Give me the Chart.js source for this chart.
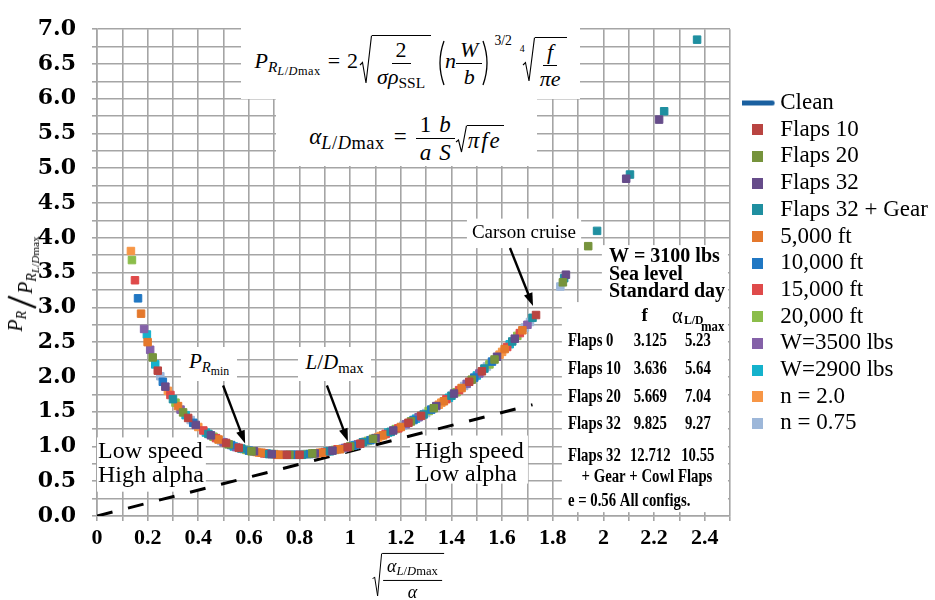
<!DOCTYPE html>
<html>
<head>
<meta charset="utf-8">
<script src="https://cdn.jsdelivr.net/npm/chart.js@4.4.1/dist/chart.umd.min.js"></script>
<style>
  html, body { margin: 0; padding: 0; background: #fff; }
  #wrap { position: relative; width: 935px; height: 600px; }
  #chart { position: absolute; left: 0; top: 0; }
  .tex { position: absolute; font-family: 'Liberation Serif', serif; color: #000; white-space: nowrap; line-height: 1; }
  .boxed { background: #fff; display: flex; align-items: center; justify-content: center; }
  .frac { display: inline-flex; flex-direction: column; align-items: center; vertical-align: middle; }
  .frac > .n { border-bottom: 1.1px solid #000; padding: 0 4px 2px; }
  .frac > .d { padding: 2px 4px 0; }
  .root { display: inline-flex; align-items: stretch; vertical-align: middle; }
  .root > svg { flex: none; }
  .root > .u { border-top: 1.1px solid #000; padding: 3px 2px 0 1px; display: inline-flex; align-items: center; }
  .sb { font-size: 0.7em; vertical-align: -0.28em; }
  .sb .sb { font-size: 0.8em; vertical-align: -0.25em; }
  .paren { vertical-align: middle; }
</style>
</head>
<body>
<div id="wrap">
  <canvas id="chart" width="935" height="600"></canvas>

  <div class="tex boxed" style="left:241px;top:26px;width:339px;height:73px;font-size:22px">
    <span><i>P</i><span class="sb"><i>R</i><span class="sb" style="letter-spacing:0.5px"><i>L</i>/<i>D</i>max</span></span><span style="margin:0 7px 0 7px">=</span>2<span class="root" style="margin-left:1px"><svg width="13" height="50" viewBox="0 0 13 50" preserveAspectRatio="none"><path d="M1,30 L3.5,27.5 L7,48 L12.5,0.6" fill="none" stroke="#000" stroke-width="1.1"/></svg><span class="u"><span class="frac"><span class="n">2</span><span class="d"><i>σρ</i><span class="sb">SSL</span></span></span></span></span><svg class="paren" width="10" height="46" viewBox="0 0 10 46" style="margin-left:4px"><path d="M9,1 Q1,23 9,45" fill="none" stroke="#000" stroke-width="1.3"/></svg><i>n</i><span class="frac"><span class="n"><i>W</i></span><span class="d"><i>b</i></span></span><svg class="paren" width="10" height="46" viewBox="0 0 10 46"><path d="M1,1 Q9,23 1,45" fill="none" stroke="#000" stroke-width="1.3"/></svg><span style="font-size:0.62em;vertical-align:1.7em;margin-left:2px">3/2</span><span style="font-size:0.45em;vertical-align:1.6em;margin:0 -3px 0 8px">4</span><span class="root"><svg width="13" height="46" viewBox="0 0 13 46" preserveAspectRatio="none"><path d="M1,28 L3.5,25.5 L7,44 L12.5,0.6" fill="none" stroke="#000" stroke-width="1.1"/></svg><span class="u"><span class="frac"><span class="n"><i>f</i></span><span class="d"><i>πe</i></span></span></span></span></span>
  </div>

  <div class="tex boxed" style="left:276px;top:99px;width:261px;height:67px;font-size:23px">
    <span style="position:relative;top:6px"><i>α</i><span class="sb" style="font-size:0.8em;letter-spacing:0.5px"><i>L</i>/<i>D</i>max</span><span style="margin:0 9px">=</span><span class="frac"><span class="n">1</span><span class="d"><i>a</i></span></span><span class="frac"><span class="n"><i>b</i></span><span class="d"><i>S</i></span></span><span class="root"><svg width="12" height="28" viewBox="0 0 12 28" preserveAspectRatio="none"><path d="M1,17 L3.5,15 L6.5,27 L11.5,0.6" fill="none" stroke="#000" stroke-width="1.1"/></svg><span class="u"><i style="letter-spacing:2px">πfe</i></span></span></span>
  </div>

  <div class="tex boxed" style="left:181px;top:347px;width:56px;height:34px;font-size:21px">
    <span><i>P</i><span class="sb"><i>R</i><span class="sb">min</span></span></span>
  </div>

  <div class="tex boxed" style="left:298px;top:347px;width:73px;height:34px;font-size:21px">
    <span><i>L</i>/<i>D</i><span class="sb">max</span></span>
  </div>

  <div class="tex" id="ytitle" style="left:22px;top:284px;font-size:20px;transform:translate(-50%,-50%) rotate(-90deg)">
    <span style="position:relative;top:-5px"><i>P</i><span class="sb"><i>R</i></span></span><svg width="15" height="30" viewBox="0 0 15 30" style="vertical-align:middle;margin:0 1px"><line x1="2" y1="29" x2="13" y2="1" stroke="#000" stroke-width="2.2"/></svg><span style="position:relative;top:5px"><i>P</i><span class="sb"><i>R</i><span class="sb"><i>L</i>/<i>D</i>max</span></span></span>
  </div>

  <div class="tex" id="xtitle" style="left:408px;top:577px;font-size:18px;transform:translate(-50%,-50%)">
    <span class="root"><svg width="10" height="44" viewBox="0 0 10 44" preserveAspectRatio="none"><path d="M0.5,26 L2.5,24 L5.5,43 L9.5,0.6" fill="none" stroke="#000" stroke-width="1"/></svg><span class="u"><span class="frac"><span class="n"><i>α</i><span class="sb"><i>L</i>/<i>D</i>max</span></span><span class="d"><i>α</i></span></span></span></span>
  </div>
</div>

<script>
// x = sqrt(alpha_LDmax / alpha), y = P_R / P_R,LDmax
const flaps10 = [[0.24, 2.09], [0.36, 1.41], [0.51, 1.05], [0.56, 0.98], [0.75, 0.88], [0.80, 0.88], [0.99, 0.99], [1.04, 1.04], [1.23, 1.34], [1.28, 1.44], [1.47, 1.93], [1.52, 2.08], [1.734, 2.89]];
const flaps20 = [[0.22, 2.28], [0.34, 1.49], [0.52, 1.03], [0.61, 0.93], [0.76, 0.88], [0.85, 0.90], [1.00, 1.00], [1.09, 1.11], [1.24, 1.36], [1.33, 1.55], [1.48, 1.96], [1.57, 2.25], [1.84, 3.36], [1.94, 3.88]];
const flaps32 = [[0.27, 1.86], [0.39, 1.31], [0.45, 1.16], [0.62, 0.93], [0.69, 0.89], [0.86, 0.90], [0.93, 0.94], [1.10, 1.12], [1.17, 1.23], [1.34, 1.58], [1.41, 1.76], [1.58, 2.29], [1.65, 2.55], [1.852, 3.47], [2.09, 4.85], [2.22, 5.70]];
const flaps32Gear = [[0.30, 1.68], [0.44, 1.18], [0.57, 0.97], [0.68, 0.89], [0.81, 0.88], [0.92, 0.93], [1.05, 1.06], [1.16, 1.21], [1.29, 1.46], [1.40, 1.73], [1.53, 2.12], [1.64, 2.51], [1.72, 2.85], [1.845, 3.42], [1.975, 4.10], [2.105, 4.91], [2.24, 5.82], [2.37, 6.85]];
const alt5000 = [[0.174, 2.91], [0.20, 2.50], [0.32, 1.58], [0.48, 1.10], [0.65, 0.91], [0.72, 0.88], [0.89, 0.91], [0.96, 0.96], [1.13, 1.16], [1.20, 1.28], [1.37, 1.65], [1.44, 1.84], [1.61, 2.40], [1.68, 2.67]];
const alt10000 = [[0.162, 3.13], [0.26, 1.93], [0.38, 1.34], [0.53, 1.02], [0.60, 0.94], [0.77, 0.88], [0.84, 0.89], [1.01, 1.01], [1.08, 1.09], [1.25, 1.38], [1.32, 1.53], [1.49, 1.99], [1.56, 2.22]];
const alt15000 = [[0.150, 3.39], [0.29, 1.74], [0.42, 1.23], [0.47, 1.12], [0.66, 0.90], [0.71, 0.88], [0.90, 0.92], [0.95, 0.96], [1.14, 1.18], [1.19, 1.26], [1.38, 1.68], [1.43, 1.81], [1.62, 2.43], [1.67, 2.63]];
const alt20000 = [[0.138, 3.68], [0.31, 1.63], [0.46, 1.14], [0.59, 0.95], [0.70, 0.89], [0.83, 0.89], [0.94, 0.95], [1.07, 1.08], [1.18, 1.25], [1.31, 1.51], [1.42, 1.78], [1.55, 2.18], [1.66, 2.59]];
const w3500 = [[0.186, 2.69], [0.21, 2.39], [0.33, 1.53], [0.50, 1.06], [0.55, 0.99], [0.74, 0.88], [0.79, 0.88], [0.98, 0.98], [1.03, 1.03], [1.22, 1.32], [1.27, 1.42], [1.46, 1.90], [1.51, 2.05], [1.70, 2.75]];
const w2900 = [[0.197, 2.61], [0.23, 2.18], [0.35, 1.45], [0.43, 1.20], [0.54, 1.00], [0.67, 0.90], [0.78, 0.88], [0.91, 0.93], [1.02, 1.02], [1.15, 1.20], [1.26, 1.40], [1.39, 1.70], [1.50, 2.02], [1.63, 2.47]];
const n20 = [[0.134, 3.81], [0.28, 1.80], [0.40, 1.28], [0.63, 0.92], [0.64, 0.91], [0.87, 0.90], [0.88, 0.91], [1.11, 1.13], [1.12, 1.15], [1.35, 1.60], [1.36, 1.63], [1.59, 2.32], [1.60, 2.36]];
const n075 = [[0.25, 2.01], [0.37, 1.38], [0.49, 1.08], [0.58, 0.96], [0.73, 0.88], [0.82, 0.89], [0.97, 0.97], [1.06, 1.07], [1.21, 1.30], [1.30, 1.48], [1.45, 1.87], [1.54, 2.15], [1.69, 2.71], [1.71, 2.79], [1.83, 3.30]];
const tangent = [[0, 0], [1.72, 1.6]];

// table in the lower right
const configNames = ['Flaps 0', 'Flaps 10', 'Flaps 20', 'Flaps 32', 'Flaps 32'];
const configF = ['3.125', '3.636', '5.669', '9.825', '12.712'];
const configAlpha = ['5.23', '5.64', '7.04', '9.27', '10.55'];

const SERIF = "'Liberation Serif', serif";

function legendIcon(color, isLine) {
  const c = document.createElement('canvas');
  const g = c.getContext('2d');
  if (isLine) {
    c.width = 36; c.height = 7;
    g.strokeStyle = color; g.lineWidth = 5; g.lineCap = 'round';
    g.beginPath(); g.moveTo(3, 3.5); g.lineTo(33, 3.5); g.stroke();
  } else {
    c.width = 11; c.height = 11;
    g.fillStyle = color; g.fillRect(0, 0, 11, 11);
  }
  return c;
}

function series(label, pts, color) {
  return {
    type: 'scatter', label, data: pts.map(([x, y]) => ({ x, y })),
    backgroundColor: color, borderColor: color, borderWidth: 1,
    pointStyle: 'rect', pointRadius: 5.3, pointHoverRadius: 5.3
  };
}

const datasets = [
  { type: 'line', label: 'Clean', data: [], borderColor: '#1a60a0', backgroundColor: '#1a60a0', borderWidth: 4, isLine: true },
  series('Flaps 10', flaps10, '#b94441'),
  series('Flaps 20', flaps20, '#76933c'),
  series('Flaps 32', flaps32, '#664c8a'),
  series('Flaps 32 + Gear', flaps32Gear, '#1f8fa0'),
  series('5,000 ft', alt5000, '#e4782c'),
  series('10,000 ft', alt10000, '#2077c3'),
  series('15,000 ft', alt15000, '#df4a4a'),
  series('20,000 ft', alt20000, '#8bbd4a'),
  series('W=3500 lbs', w3500, '#8461a8'),
  series('W=2900 lbs', w2900, '#14b2cc'),
  series('n = 2.0', n20, '#f79646'),
  series('n = 0.75', n075, '#9db7d9'),
  { type: 'line', label: '', data: tangent.map(([x, y]) => ({ x, y })), borderColor: '#000', borderWidth: 3,
    borderDash: [16, 16], pointRadius: 0, fill: false }
];

function squeeze(ctx, text, x, y, align, sx) {
  ctx.save();
  ctx.translate(x, y);
  ctx.scale(sx, 1);
  ctx.textAlign = align;
  ctx.fillText(text, 0, 0);
  ctx.restore();
}

function arrow(ctx, x0, y0, x1, y1) {
  const a = Math.atan2(y1 - y0, x1 - x0);
  ctx.beginPath();
  ctx.moveTo(x0, y0);
  ctx.lineTo(x1 - 8 * Math.cos(a), y1 - 8 * Math.sin(a));
  ctx.stroke();
  ctx.beginPath();
  ctx.moveTo(x1, y1);
  ctx.lineTo(x1 - 13 * Math.cos(a) + 4.5 * Math.sin(a), y1 - 13 * Math.sin(a) - 4.5 * Math.cos(a));
  ctx.lineTo(x1 - 13 * Math.cos(a) - 4.5 * Math.sin(a), y1 - 13 * Math.sin(a) + 4.5 * Math.cos(a));
  ctx.closePath();
  ctx.fill();
}

// white label boxes: [x0, yTop, x1, yBottom] in axis units
const whiteBoxes = [
  [0, 1.13, 0.43, 0.35],
  [1.236, 1.157, 1.702, 0.466],
  [1.461, 4.276, 1.912, 3.853],
  [1.994, 3.895, 2.492, 3.048],
  [1.836, 3.076, 2.492, 0.056]
];

const notes = {
  id: 'notes',
  beforeDraw(chart) {
    const lg = chart.legend;
    lg.left = 742; lg.right = 935; lg.width = 193; lg.top = 15.2; lg.bottom = 511.2;
  },
  beforeDatasetsDraw(chart) {
    const { ctx, scales: { x, y } } = chart;
    ctx.save();
    ctx.fillStyle = '#fff';
    whiteBoxes.forEach(([x0, y0, x1, y1]) => {
      const a = x.getPixelForValue(x0), b = y.getPixelForValue(y0);
      ctx.fillRect(a, b, x.getPixelForValue(x1) - a, y.getPixelForValue(y1) - b);
    });
    ctx.restore();
  },
  afterDatasetsDraw(chart) {
    const { ctx, scales: { x, y } } = chart;
    const X = v => x.getPixelForValue(v), Y = v => y.getPixelForValue(v);
    ctx.save();
    ctx.fillStyle = '#000';
    ctx.strokeStyle = '#000';
    ctx.textBaseline = 'middle';

    ctx.font = `24px ${SERIF}`;
    ctx.textAlign = 'left';
    ctx.fillText('Low speed', X(0.004), Y(0.93));
    ctx.fillText('High alpha', X(0.004), Y(0.58));
    ctx.fillText('High speed', X(1.256), Y(0.93));
    ctx.fillText('Low alpha', X(1.256), Y(0.59));

    ctx.font = `19px ${SERIF}`;
    ctx.textAlign = 'center';
    ctx.fillText('Carson cruise', X(1.686), Y(4.064));

    ctx.font = `bold 20px ${SERIF}`;
    ctx.textAlign = 'left';
    ctx.fillText('W = 3100 lbs', X(2.022), Y(3.726));
    ctx.fillText('Sea level', X(2.022), Y(3.472));
    ctx.fillText('Standard day', X(2.022), Y(3.218));

    // table header
    ctx.font = `bold 19px ${SERIF}`;
    ctx.fillText('f', X(2.15), Y(2.88));
    ctx.font = `24px ${SERIF}`;
    squeeze(ctx, 'α', X(2.271), Y(2.86), 'left', 0.85);
    ctx.font = `bold 13px ${SERIF}`;
    squeeze(ctx, 'L/D', X(2.318), Y(2.81), 'left', 0.9);
    ctx.font = `bold 15px ${SERIF}`;
    squeeze(ctx, 'max', X(2.385), Y(2.71), 'left', 0.85);

    const rowY = [2.512, 2.103, 1.708, 1.312, 0.861];
    ctx.font = `bold 18px ${SERIF}`;
    configNames.forEach((name, i) => {
      squeeze(ctx, name, X(1.86), Y(rowY[i]), 'left', 0.82);
      squeeze(ctx, configF[i], X(2.185), Y(rowY[i]), 'center', 0.82);
      squeeze(ctx, configAlpha[i], X(2.373), Y(rowY[i]), 'center', 0.82);
    });
    squeeze(ctx, '+ Gear + Cowl Flaps', X(2.172), Y(0.55), 'center', 0.82);
    squeeze(ctx, 'e = 0.56 All configs.', X(1.86), Y(0.212), 'left', 0.82);

    // arrows
    ctx.lineWidth = 2.4;
    [[0.498, 1.877, 0.585, 1.044], [0.908, 1.877, 0.991, 1.073], [1.631, 3.853, 1.722, 3.02]]
      .forEach(([a, b, c, d]) => arrow(ctx, X(a), Y(b), X(c), Y(d)));
    ctx.restore();
  }
};

const gridColor = '#a5a5a5';

new Chart(document.getElementById('chart'), {
  type: 'scatter',
  data: { datasets },
  options: {
    responsive: false,
    animation: false,
    devicePixelRatio: 1,
    events: [],
    layout: { padding: { top: 20, right: 65, left: 0, bottom: 0 } },
    scales: {
      x: {
        type: 'linear', min: 0, max: 2.5,
        afterFit: s => { s.height = 84; },
        grid: { color: gridColor, lineWidth: 1.6, tickLength: 5 },
        border: { color: gridColor, width: 1.6 },
        ticks: {
          stepSize: 0.1, autoSkip: false, maxRotation: 0, padding: 4, color: '#000',
          font: { family: SERIF, size: 22, weight: 'bold' },
          callback: v => { const t = Math.round(v * 10); return t % 2 === 0 && t < 25 ? String(t / 10) : ''; }
        }
      },
      y: {
        type: 'linear', min: 0, max: 7,
        afterFit: s => { s.width = 97; },
        grid: { color: gridColor, lineWidth: 1.6, tickLength: 5 },
        border: { color: gridColor, width: 1.6 },
        ticks: {
          stepSize: 0.25, autoSkip: false, padding: 16, color: '#000',
          font: { family: "'DejaVu Serif', serif", size: 22, weight: 'bold' },
          callback: v => { const t = Math.round(v * 4); return t % 2 === 0 ? (t / 4).toFixed(1) : ''; }
        }
      }
    },
    plugins: {
      tooltip: { enabled: false },
      legend: {
        position: 'right', fullSize: false, maxWidth: 140, align: 'center',
        labels: {
          usePointStyle: true, boxWidth: 23, boxHeight: 11, padding: 3.7, color: '#000',
          font: { family: SERIF, size: 23 },
          generateLabels: chart => chart.data.datasets
            .map((ds, i) => ({
              text: ds.label, datasetIndex: i, hidden: false, lineWidth: 0,
              fillStyle: ds.backgroundColor, strokeStyle: ds.borderColor, fontColor: '#000',
              pointStyle: legendIcon(ds.borderColor, ds.isLine)
            }))
            .filter(it => it.text)
        }
      }
    }
  },
  plugins: [notes]
});
</script>
</body>
</html>
